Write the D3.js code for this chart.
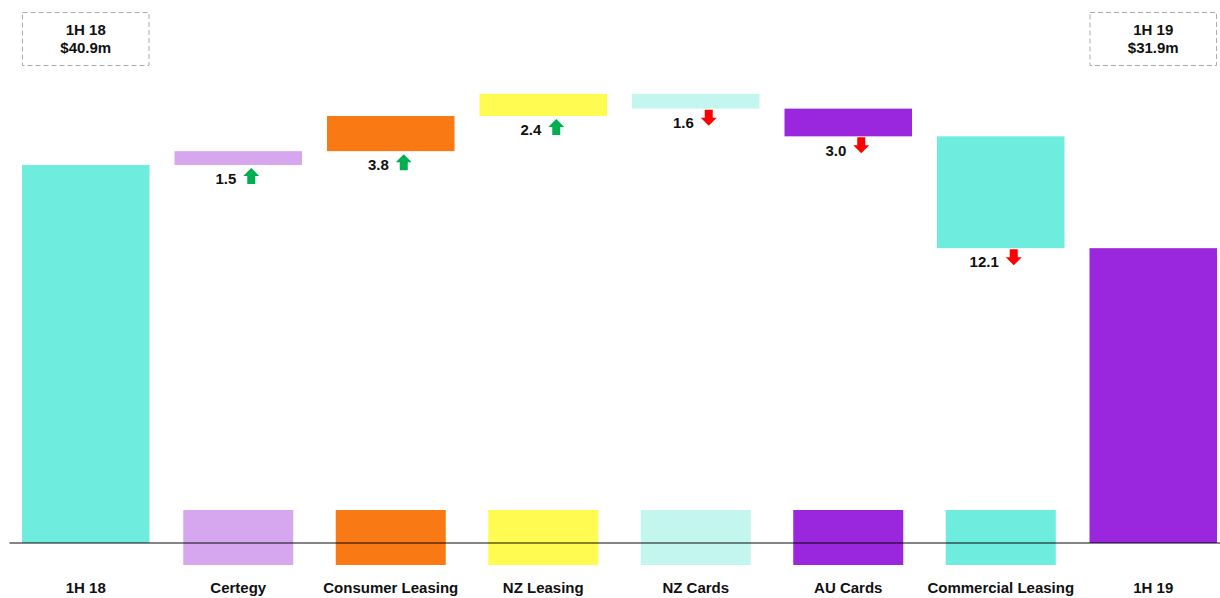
<!DOCTYPE html>
<html>
<head>
<meta charset="utf-8">
<script src="https://d3js.org/d3.v7.min.js"></script>
<style>
  body { margin: 0; background: #fff; }
  text { font-family: "Liberation Sans", Arial, sans-serif; font-weight: bold; fill: #111; }
</style>
</head>
<body>
<div id="chart"></div>
<script>

// categories and values ($m)
var categories = ["1H 18", "Certegy", "Consumer Leasing", "NZ Leasing", "NZ Cards", "AU Cards", "Commercial Leasing", "1H 19"];
var changes = [40.9, 1.5, 3.8, 2.4, -1.6, -3.0, -12.1, 31.9];   // first and last are totals
var colors = ["#6eecde", "#d6a7ef", "#f97915", "#fffb50", "#c4f6f0", "#9a27dd", "#6eecde", "#9a27dd"];
var totalLabels = [["1H 18", "$40.9m"], ["1H 19", "$31.9m"]];

var W = 1220, H = 598;
var baseY = 543;

var svg = d3.select("#chart").append("svg")
  .attr("width", W)
  .attr("height", H);

var x = d3.scaleBand()
  .domain(categories)
  .range([9.5, 1229.5])
  .paddingInner(0.164)
  .paddingOuter(0.082);

var y = d3.scaleLinear()
  .domain([0, 50])
  .range([baseY, baseY - 50 * 9.242]);

// build waterfall steps
var running = 0;
var steps = categories.map(function(c, i) {
  var d = { name: c, value: changes[i], color: colors[i] };
  if (i == 0 || i == categories.length - 1) {
    d.total = true;
    d.start = 0;
    d.end = changes[i];
    running = changes[i];
  } else {
    d.total = false;
    d.start = running;
    d.end = running + changes[i];
    running = d.end;
  }
  return d;
});

// legend swatches under each movement
svg.selectAll("rect.swatch")
  .data(steps.filter(function(d) { return !d.total; }))
  .enter().append("rect")
    .attr("class", "swatch")
    .attr("x", function(d) { return x(d.name) + x.bandwidth() / 2 - 55; })
    .attr("y", baseY - 33)
    .attr("width", 110)
    .attr("height", 55)
    .attr("fill", function(d) { return d.color; });

// bars
svg.selectAll("rect.bar")
  .data(steps)
  .enter().append("rect")
    .attr("class", "bar")
    .attr("x", function(d) { return x(d.name); })
    .attr("y", function(d) { return y(Math.max(d.start, d.end)); })
    .attr("width", x.bandwidth())
    .attr("height", function(d) { return Math.abs(y(d.start) - y(d.end)); })
    .attr("fill", function(d) { return d.color; });

// baseline
svg.append("line")
  .attr("x1", 9.5).attr("x2", W)
  .attr("y1", baseY).attr("y2", baseY)
  .attr("stroke", "#000")
  .attr("stroke-opacity", 0.48)
  .attr("stroke-width", 2);

// value labels with arrows
var moves = steps.filter(function(d) { return !d.total; });
var lab = svg.selectAll("g.lab")
  .data(moves)
  .enter().append("g")
    .attr("class", "lab")
    .attr("transform", function(d) {
      var cx = x(d.name) + x.bandwidth() / 2;
      var cy = y(Math.min(d.start, d.end)) + 14;
      return "translate(" + cx + "," + cy + ")";
    });

lab.append("text")
  .attr("x", -2)
  .attr("dy", "0.35em")
  .attr("text-anchor", "end")
  .style("font-size", "15px")
  .text(function(d) { return Math.abs(d.value).toFixed(1); });

var upArrow = "M0,-8 L8,0 L4,0 L4,8 L-4,8 L-4,0 L-8,0 Z";
var downArrow = "M0,8 L8,0 L4,0 L4,-8 L-4,-8 L-4,0 L-8,0 Z";
lab.append("path")
  .attr("transform", function(d) { return d.value > 0 ? "translate(13,-3)" : "translate(13,-5)"; })
  .attr("d", function(d) { return d.value > 0 ? upArrow : downArrow; })
  .attr("fill", function(d) { return d.value > 0 ? "#00b050" : "#ff0000"; });

// category labels
svg.selectAll("text.cat")
  .data(categories)
  .enter().append("text")
    .attr("class", "cat")
    .attr("x", function(d) { return x(d) + x.bandwidth() / 2; })
    .attr("y", 593)
    .attr("text-anchor", "middle")
    .style("font-size", "15px")
    .text(function(d) { return d; });

// total boxes
var boxCats = [categories[0], categories[categories.length - 1]];
var box = svg.selectAll("g.box")
  .data(boxCats)
  .enter().append("g")
    .attr("class", "box")
    .attr("transform", function(d) { return "translate(" + x(d) + ",12)"; });

box.append("rect")
  .attr("x", 0.5).attr("y", 0.5)
  .attr("width", x.bandwidth() - 1)
  .attr("height", 53)
  .attr("fill", "none")
  .attr("stroke", "#aaa")
  .attr("stroke-dasharray", "5,3");

box.each(function(d, i) {
  var g = d3.select(this);
  totalLabels[i].forEach(function(t, j) {
    g.append("text")
      .attr("x", x.bandwidth() / 2)
      .attr("y", 23 + j * 18)
      .attr("text-anchor", "middle")
      .style("font-size", "15px")
      .text(t);
  });
});

</script>
</body>
</html>
